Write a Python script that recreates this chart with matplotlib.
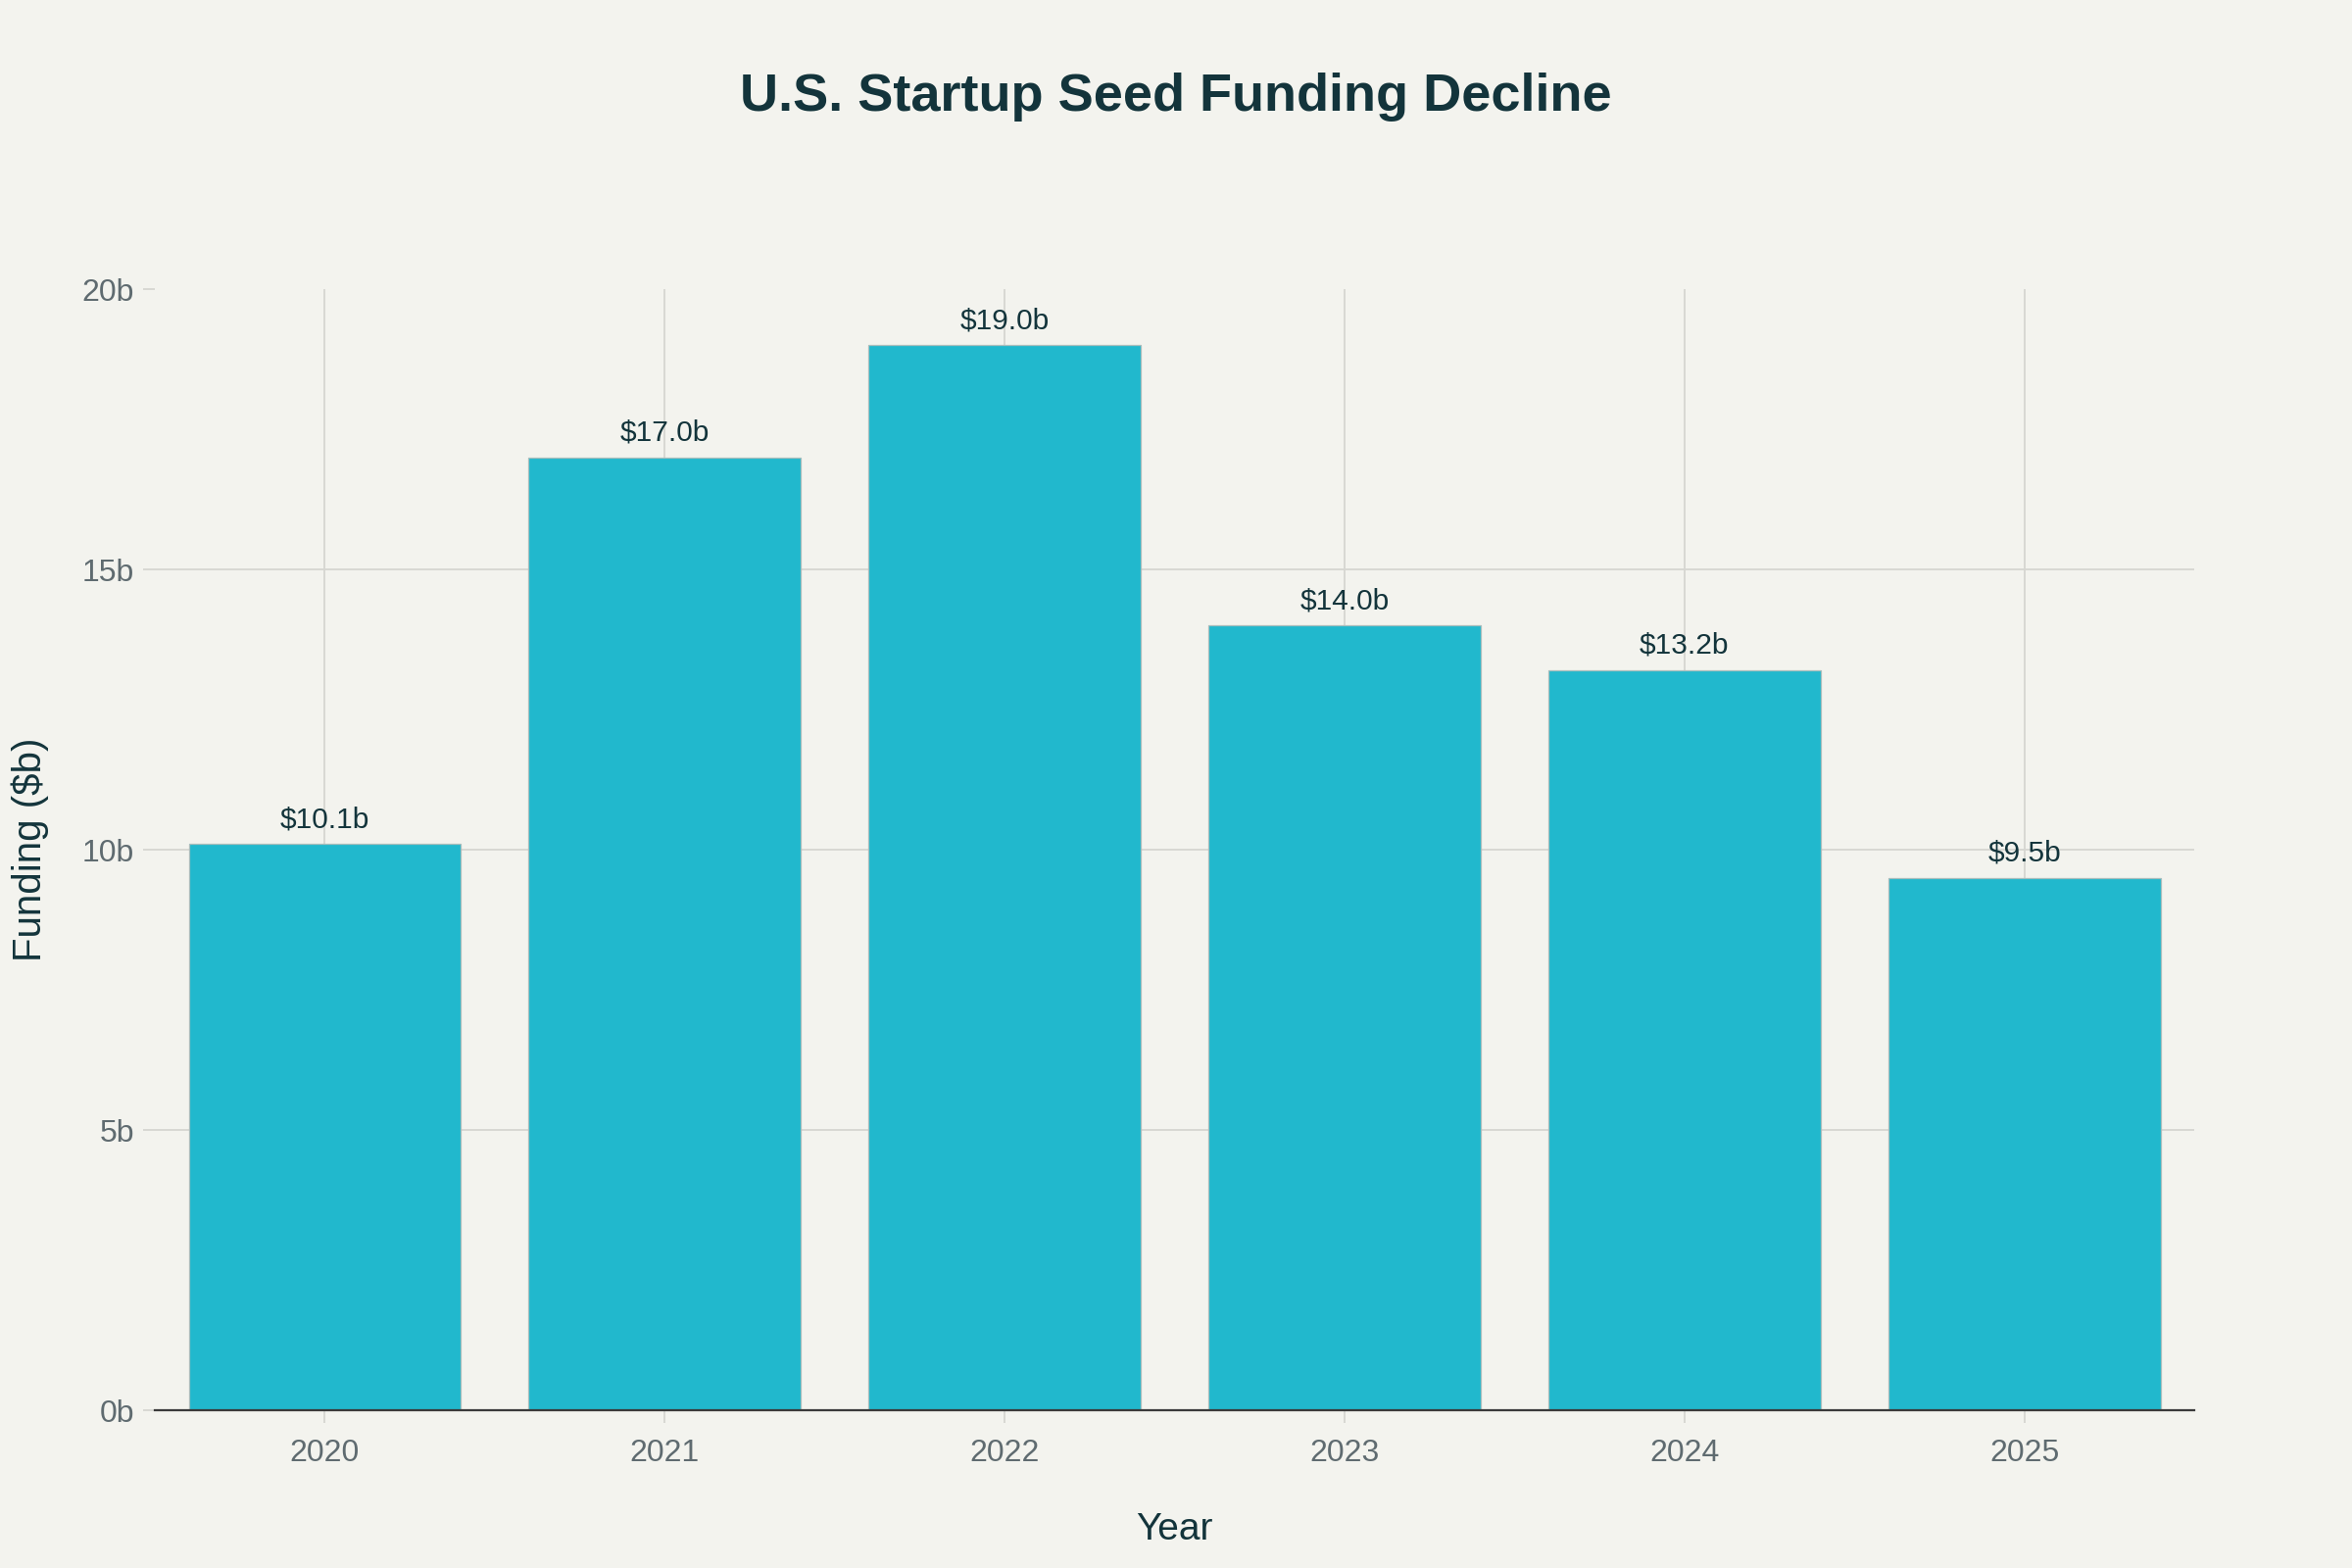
import matplotlib
matplotlib.use("Agg")
import matplotlib.pyplot as plt

years = ["2020", "2021", "2022", "2023", "2024", "2025"]
funding = [10.1, 17.0, 19.0, 14.0, 13.2, 9.5]
yticks = [0, 5, 10, 15, 20]
ytick_labels = ["0b", "5b", "10b", "15b", "20b"]

BG = "#F3F3EE"
BAR = "#21B8CD"
DARK = "#13343B"
GRAY = "#5F6B70"
GRID = "#D6D6D1"

plt.rcParams['font.family'] = ['Liberation Sans', 'DejaVu Sans']

fig = plt.figure(figsize=(24, 16), dpi=100, facecolor=BG)
ax = fig.add_axes([0.0658, 0.1006, 0.8672, 0.715])
ax.set_facecolor(BG)

x = list(range(len(years)))
bars = ax.bar(x, funding, width=0.8, color=BAR, edgecolor="#A8BDBD", linewidth=0.9, zorder=3)

ax.set_xlim(-0.5, len(years) - 0.5)
ax.set_ylim(0, 20)
ax.set_xticks(x)
ax.set_xticklabels(years)
ax.set_yticks(yticks)
ax.set_yticklabels(ytick_labels)

ax.grid(True, color=GRID, linewidth=1.3, zorder=0)
ax.set_axisbelow(True)
ygl = ax.get_ygridlines()
ygl[-1].set_visible(False)

for s in ["top", "right", "left"]:
    ax.spines[s].set_visible(False)
ax.spines["bottom"].set_color("#3A3A3A")
ax.spines["bottom"].set_linewidth(1.6)
ax.spines["bottom"].set_zorder(4)

ax.tick_params(axis="both", colors=GRID, length=9, width=1.3, labelsize=23, labelcolor=GRAY)
ax.tick_params(axis="y", pad=6)
ax.tick_params(axis="x", pad=12)

for xi, v in zip(x, funding):
    ax.annotate(f"${v:.1f}b", (xi, v), xytext=(0, 8), textcoords="offset points",
                ha="center", va="bottom", fontsize=21.5, color=DARK, zorder=5)

ax.set_xlabel("Year", fontsize=28, color=DARK, labelpad=32)
ax.set_ylabel("Funding ($b)", fontsize=29, color=DARK, labelpad=24)

fig.text(0.5, 0.938, "U.S. Startup Seed Funding Decline", ha="center", va="center",
         fontsize=39, fontweight="bold", color=DARK)

fig.savefig("out.png", dpi=100, facecolor=BG)
